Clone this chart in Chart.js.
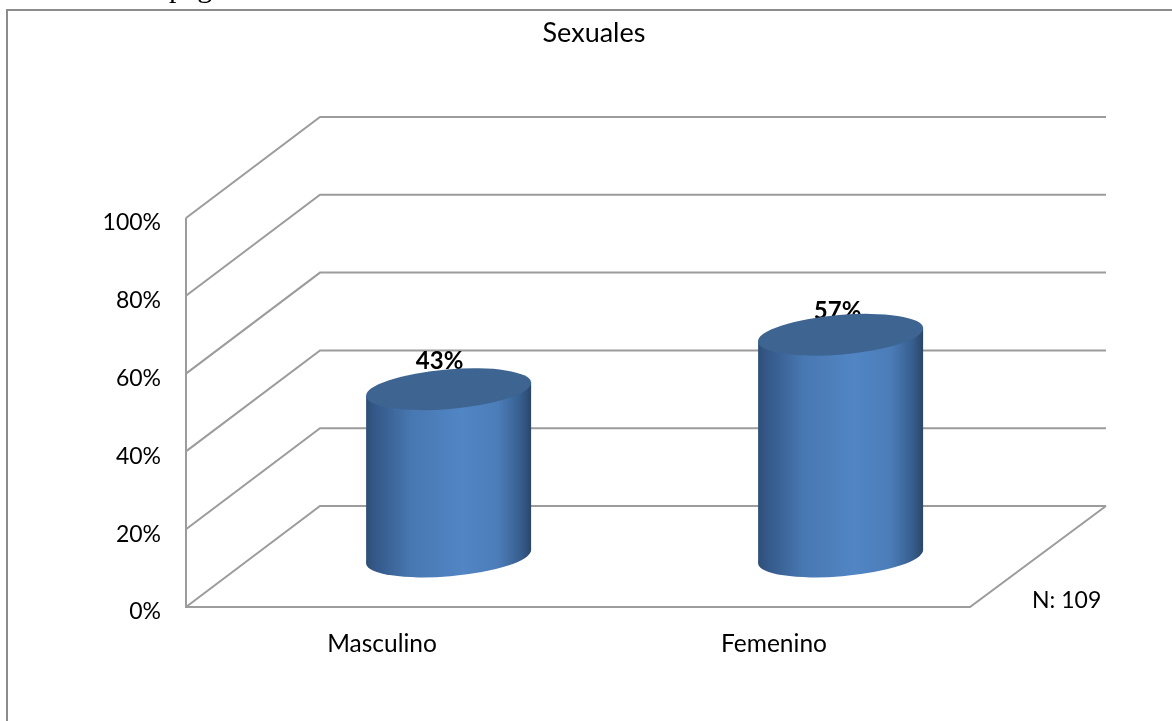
<!DOCTYPE html>
<html><head><meta charset="utf-8">
<style>html,body{margin:0;padding:0;background:#fff;overflow:hidden}#w{width:1172px;height:721px}</style>
<script src="https://cdn.jsdelivr.net/npm/chart.js@4"></script>
</head><body><div id="w"><canvas id="c" width="1172" height="721"></canvas></div>
<script>
const categories = ['Masculino', 'Femenino'];
const percentValues = [43, 57];
const yTicks = [0, 20, 40, 60, 80, 100];
const chartTitle = 'Sexuales';
const sampleNote = 'N: 109';
const headerFragment = 'página';

const FONT = 'Lato, Carlito, Calibri, sans-serif';
const GRID = '#9c9c9c';
const DEPTH_X = 134, DEPTH_Y = 101;
const labelNudgeX = [-9, -3];
const labelNudgeY = [-28, -24];

const scene = {
  id: 'scene',
  beforeDraw(chart) {
    const c = chart.ctx, a = chart.chartArea, y = chart.scales.y;
    c.save();
    c.fillStyle = '#fff'; c.fillRect(0, 0, chart.width, chart.height);
    // clipped running text above the frame
    c.save();
    c.beginPath(); c.rect(0, 0, chart.width, 9); c.clip();
    c.fillStyle = '#000'; c.font = '30px "Liberation Serif", serif';
    c.textBaseline = 'alphabetic'; c.textAlign = 'left';
    c.fillText(headerFragment, 169, -3.5);
    c.restore();
    // frame
    c.strokeStyle = '#8c8c8c'; c.lineWidth = 2;
    c.beginPath(); c.moveTo(7, 722); c.lineTo(7, 10); c.lineTo(1172, 10); c.stroke();
    // 3D walls and floor
    c.strokeStyle = GRID; c.lineWidth = 2; c.lineJoin = 'miter';
    yTicks.forEach(v => {
      const py = y.getPixelForValue(v);
      c.beginPath();
      c.moveTo(a.left, py);
      c.lineTo(a.left + DEPTH_X, py - DEPTH_Y);
      c.lineTo(a.right + DEPTH_X + 2, py - DEPTH_Y);
      c.stroke();
    });
    c.beginPath();
    c.moveTo(a.left, y.getPixelForValue(100));
    c.lineTo(a.left, y.getPixelForValue(0));
    c.lineTo(a.right, y.getPixelForValue(0));
    c.lineTo(a.right + DEPTH_X + 2, y.getPixelForValue(0) - DEPTH_Y);
    c.stroke();
    c.restore();
  },
  afterDatasetsDraw(chart) {
    const c = chart.ctx;
    const meta = chart.getDatasetMeta(0);
    const RX = 82.8, RY = 19.8, ROT = -4.8 * Math.PI / 180, HW = 82.5, DY = 6.5;
    meta.data.forEach((bar, i) => {
      const cx = bar.x + DEPTH_X / 2 - 0.4;
      const top = bar.y - DEPTH_Y / 2, bot = bar.base - DEPTH_Y / 2;
      c.save();
      // value label sits behind the cylinder's top rim
      c.fillStyle = '#000'; c.font = 'bold 24px ' + FONT;
      c.textAlign = 'center'; c.textBaseline = 'middle';
      c.fillText(percentValues[i] + '%', cx + labelNudgeX[i], top + labelNudgeY[i]);
      // body
      const g = c.createLinearGradient(cx - HW, 0, cx + HW, 0);
      g.addColorStop(0, '#2f4f78');
      g.addColorStop(0.06, '#35598a');
      g.addColorStop(0.28, '#4878b2');
      g.addColorStop(0.58, '#5185c4');
      g.addColorStop(0.8, '#4c7db9');
      g.addColorStop(0.94, '#365d8d');
      g.addColorStop(1, '#2a4668');
      c.fillStyle = g;
      c.beginPath();
      c.moveTo(cx - HW, top + DY);
      c.lineTo(cx + HW, top - DY);
      c.lineTo(cx + HW, bot - DY);
      c.lineTo(cx - HW, bot + DY);
      c.closePath(); c.fill();
      c.beginPath(); c.ellipse(cx, bot, RX, RY, ROT, 0, Math.PI * 2); c.fill();
      // cap
      c.fillStyle = '#3e6592';
      c.beginPath(); c.ellipse(cx, top, RX, RY, ROT, 0, Math.PI * 2); c.fill();
      c.restore();
    });
    // sample note
    c.save();
    c.fillStyle = '#000'; c.font = '23px ' + FONT;
    c.textAlign = 'left'; c.textBaseline = 'middle';
    c.fillText(sampleNote, 1032, 601);
    c.restore();
  },
  afterLayout(chart) {
    // title centred as in the reference
    chart.titleBlock.left = 16; chart.titleBlock.right = 1172;
    chart.titleBlock.width = 1156;
  }
};

new Chart(document.getElementById('c'), {
  type: 'bar',
  data: { labels: categories, datasets: [{ data: percentValues, backgroundColor: 'rgba(0,0,0,0)', borderWidth: 0 }] },
  plugins: [scene],
  options: {
    responsive: false, animation: false,
    layout: { padding: { top: 17, right: 202, left: 0, bottom: 0 } },
    plugins: {
      legend: { display: false }, tooltip: { enabled: false },
      title: { display: true, text: chartTitle, color: '#000', font: { family: FONT, size: 27, weight: 'normal' }, padding: { top: 0, bottom: 168.6 } }
    },
    scales: {
      x: {
        grid: { display: false }, border: { display: false },
        ticks: { color: '#000', font: { family: FONT, size: 24.5 }, padding: 14, maxRotation: 0 },
        afterFit(s) { s.height = 114; }
      },
      y: {
        min: 0, max: 100,
        grid: { display: false }, border: { display: false },
        afterBuildTicks(s) { s.ticks = yTicks.map(v => ({ value: v })); },
        ticks: { color: '#000', font: { family: FONT, size: 23 }, padding: 17, labelOffset: 5, callback: v => v + '%' },
        afterFit(s) { s.width = 186; }
      }
    }
  }
});
</script></body></html>
